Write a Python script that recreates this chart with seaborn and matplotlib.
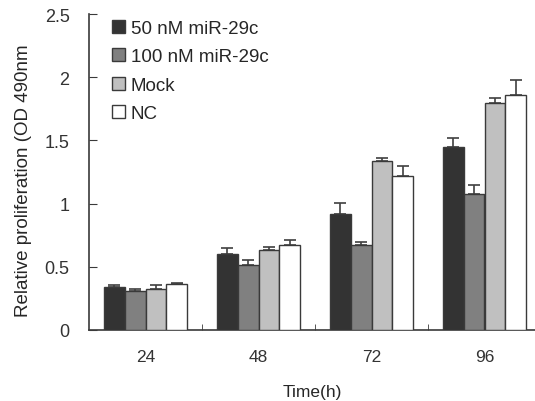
import numpy as np
import pandas as pd
import matplotlib
matplotlib.use("Agg")
import matplotlib.pyplot as plt
import seaborn as sns

times = ["24", "48", "72", "96"]
groups = ["50 nM miR-29c", "100 nM miR-29c", "Mock", "NC"]
mean_50nm = [0.343, 0.604, 0.915, 1.448]
mean_100nm = [0.306, 0.512, 0.672, 1.073]
mean_mock = [0.324, 0.633, 1.334, 1.793]
mean_nc = [0.364, 0.672, 1.216, 1.859]
err_50nm = [0.015, 0.042, 0.092, 0.073]
err_100nm = [0.022, 0.039, 0.022, 0.077]
err_mock = [0.032, 0.021, 0.026, 0.045]
err_nc = [0.010, 0.040, 0.081, 0.121]

means = [mean_50nm, mean_100nm, mean_mock, mean_nc]
errs = [err_50nm, err_100nm, err_mock, err_nc]
rows = []
for g, m, e in zip(groups, means, errs):
    for t, v, s in zip(times, m, e):
        rows.append({"time": t, "group": g, "value": v, "err": s})
data = pd.DataFrame(rows)

colors = ["#333333", "#808080", "#c0c0c0", "#ffffff"]
edge = "#3a3a3a"
font_size = 12.5

sns.set_style("ticks")
plt.rcParams["font.family"] = ["Liberation Sans", "DejaVu Sans"]

fig = plt.figure(figsize=(5.35, 4.02), dpi=100)
ax = fig.add_axes([89 / 535, 1 - 331 / 402, 446 / 535, 316 / 402])

sns.barplot(data=data, x="time", y="value", hue="group", hue_order=groups,
            order=times, palette=colors, edgecolor=edge, linewidth=1.0,
            width=0.74, errorbar=None, ax=ax, zorder=3)

# upper error bars at each bar centre
for cont, g in zip(ax.containers, groups):
    sub = data[data["group"] == g].set_index("time").loc[times]
    xs = [p.get_x() + p.get_width() / 2 for p in cont.patches]
    ax.errorbar(xs, sub["value"], yerr=[np.zeros(len(xs)), sub["err"]],
                fmt="none", ecolor="#404040", elinewidth=1.2, capsize=4.5,
                capthick=1.2, zorder=2)

ax.set_xlim(-0.5, -0.5 + 446 / 113)
ax.set_ylim(0, 2.5)
ax.set_yticks([0, 0.5, 1, 1.5, 2, 2.5])
ax.set_yticklabels(["0", "0.5", "1", "1.5", "2", "2.5"])
ax.set_xticks([0.5, 1.5, 2.5], minor=True)
ax.tick_params(axis="x", which="major", length=0, labelsize=font_size, pad=14,
               colors="#333333")
ax.tick_params(axis="x", which="minor", direction="in", length=4, color=edge)
ax.tick_params(axis="y", direction="in", length=6, labelsize=font_size + 0.5,
               pad=14, color=edge, labelcolor="#333333")

for s in ["top", "right"]:
    ax.spines[s].set_visible(False)
for s in ["left", "bottom"]:
    ax.spines[s].set_color(edge)
    ax.spines[s].set_linewidth(1.2)

ax.set_xlabel("Time(h)", fontsize=font_size, labelpad=14)
ax.set_ylabel("")
fig.text(24 / 535, 1 - 181 / 402, "Relative proliferation (OD 490nm",
         rotation=90, ha="center", va="center", fontsize=13.5)

leg = ax.legend(loc="upper left", bbox_to_anchor=(0.035, 1.005), frameon=False,
                fontsize=13.5, handlelength=0.7, handleheight=0.7,
                handletextpad=0.3, labelspacing=0.6, borderaxespad=0)

fig.savefig("out.png", dpi=100)
